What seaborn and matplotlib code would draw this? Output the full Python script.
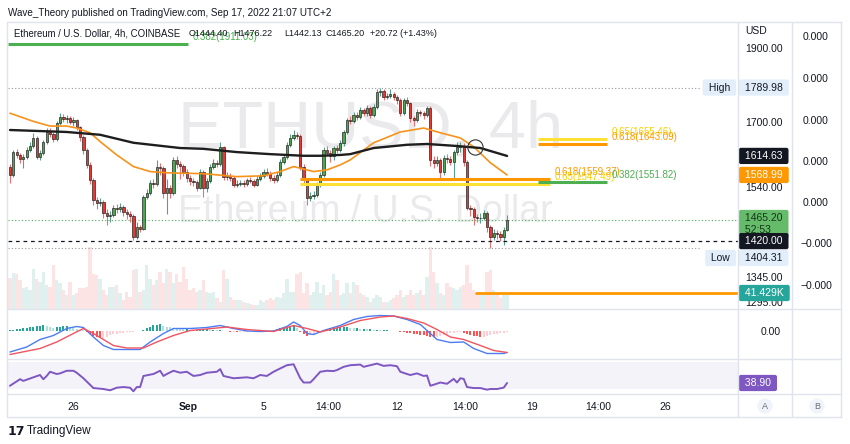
import numpy as np
import seaborn as sns
import matplotlib.pyplot as plt
from matplotlib.lines import Line2D
from matplotlib.ticker import NullLocator
from matplotlib.transforms import blended_transform_factory

W, H = 850, 444

# ETH/USD 4h candles (Coinbase)
first_open = 1588
closes = [1570, 1624, 1618, 1608, 1612, 1630, 1638, 1660, 1612, 1622,
          1650, 1675, 1670, 1656, 1697, 1712, 1706, 1710, 1700, 1704,
          1686, 1661, 1629, 1593, 1557, 1511, 1504, 1506, 1481, 1474,
          1478, 1493, 1490, 1495, 1483, 1480, 1474, 1429, 1450, 1447,
          1518, 1527, 1550, 1547, 1589, 1586, 1527, 1538, 1527, 1605,
          1595, 1590, 1576, 1562, 1555, 1552, 1539, 1576, 1539, 1555,
          1589, 1598, 1595, 1637, 1565, 1567, 1562, 1546, 1548, 1550,
          1548, 1557, 1555, 1546, 1560, 1567, 1576, 1572, 1562, 1558,
          1569, 1600, 1612, 1642, 1660, 1667, 1664, 1589, 1557, 1516,
          1520, 1523, 1546, 1569, 1629, 1622, 1615, 1634, 1630, 1646,
          1674, 1704, 1702, 1717, 1712, 1730, 1722, 1735, 1717, 1738,
          1777, 1780, 1766, 1768, 1772, 1766, 1757, 1722, 1757, 1748,
          1709, 1705, 1725, 1722, 1717, 1735, 1605, 1598, 1605, 1576,
          1610, 1608, 1600, 1624, 1637, 1640, 1600, 1493, 1490, 1473,
          1470, 1471, 1481, 1451, 1429, 1438, 1436, 1429, 1444.40, 1465.20]
highs = [1595, 1630, 1632, 1622, 1620, 1636, 1648, 1672, 1664, 1630,
         1655, 1683, 1684, 1675, 1702, 1722, 1720, 1718, 1714, 1712,
         1708, 1690, 1666, 1634, 1600, 1562, 1518, 1515, 1510, 1490,
         1486, 1500, 1502, 1504, 1500, 1490, 1486, 1480, 1462, 1456,
         1522, 1536, 1556, 1560, 1605, 1598, 1590, 1560, 1545, 1612,
         1614, 1602, 1596, 1584, 1570, 1562, 1558, 1582, 1580, 1562,
         1594, 1606, 1605, 1649, 1640, 1576, 1574, 1566, 1556, 1557,
         1556, 1562, 1563, 1560, 1566, 1574, 1582, 1586, 1578, 1568,
         1575, 1606, 1620, 1648, 1670, 1679, 1675, 1668, 1595, 1562,
         1530, 1532, 1552, 1575, 1636, 1640, 1628, 1640, 1642, 1654,
         1680, 1710, 1714, 1725, 1726, 1738, 1736, 1744, 1740, 1745,
         1785, 1789.98, 1786, 1776, 1785, 1778, 1770, 1762, 1762, 1764,
         1752, 1716, 1732, 1730, 1728, 1742, 1740, 1614, 1615, 1610,
         1618, 1620, 1614, 1630, 1648, 1650, 1646, 1605, 1500, 1496,
         1480, 1482, 1488, 1486, 1456, 1446, 1444, 1442, 1450, 1476.22]
lows = [1550, 1565, 1610, 1598, 1585, 1606, 1625, 1634, 1606, 1604,
        1618, 1645, 1662, 1650, 1652, 1692, 1700, 1698, 1694, 1690,
        1680, 1652, 1620, 1585, 1548, 1500, 1490, 1497, 1470, 1455,
        1462, 1472, 1482, 1484, 1475, 1468, 1462, 1422, 1425, 1440,
        1444, 1512, 1522, 1538, 1543, 1570, 1515, 1480, 1515, 1522,
        1585, 1560, 1566, 1552, 1545, 1544, 1532, 1535, 1518, 1530,
        1550, 1584, 1588, 1590, 1558, 1558, 1555, 1540, 1540, 1542,
        1541, 1544, 1549, 1540, 1542, 1555, 1562, 1566, 1555, 1550,
        1553, 1564, 1594, 1606, 1636, 1654, 1656, 1580, 1548, 1500,
        1508, 1512, 1518, 1540, 1565, 1614, 1600, 1605, 1622, 1625,
        1640, 1668, 1694, 1696, 1704, 1706, 1714, 1716, 1710, 1712,
        1732, 1768, 1758, 1760, 1762, 1758, 1745, 1714, 1718, 1740,
        1700, 1690, 1700, 1714, 1708, 1712, 1590, 1585, 1590, 1557,
        1570, 1598, 1592, 1560, 1618, 1625, 1590, 1488, 1475, 1455,
        1462, 1460, 1465, 1440, 1404.31, 1422, 1425, 1420, 1411, 1442.13]
volume_k = [95, 110, 107, 87, 62, 67, 57, 122, 92, 82, 112, 72,
            67, 132, 87, 77, 57, 42, 82, 42, 47, 62,
            62, 67, 187, 107, 102, 92, 57, 42, 67, 67,
            72, 47, 27, 52, 37, 117, 122, 52, 57, 132,
            92, 72, 87, 112, 77, 122, 112, 77, 107, 82,
            127, 92, 57, 62, 52, 57, 87, 52, 47, 52,
            32, 22, 117, 92, 37, 27, 27, 27, 22, 17,
            15, 12, 12, 27, 22, 27, 32, 27, 37, 32,
            47, 92, 52, 52, 107, 112, 47, 77, 42, 52,
            82, 47, 72, 42, 52, 107, 87, 42, 47, 77,
            47, 82, 72, 47, 42, 37, 22, 32, 42, 37,
            22, 22, 27, 32, 42, 57, 37, 42, 57, 42,
            47, 57, 42, 97, 187, 112, 77, 47, 42, 77,
            67, 62, 57, 67, 72, 132, 77, 57, 47, 42,
            47, 112, 117, 57, 47, 32, 42, 41.429]

# moving averages (candle index, price)
ma_fast_idx = [0, 7, 12, 17, 20, 24, 27, 32, 37, 42, 47, 58, 68, 76, 81, 85,
               91, 95, 99, 102, 109, 117, 124, 129, 135, 139, 144, 149]
ma_fast = [1722, 1701, 1689, 1689, 1684, 1672, 1650, 1617, 1589, 1577, 1574,
           1572, 1565, 1567, 1577, 1589, 1577, 1581, 1593, 1605, 1647, 1674,
           1684, 1672, 1659, 1637, 1598, 1568.99]
ma_slow_idx = [0, 17, 27, 37, 51, 58, 68, 78, 88, 93, 99, 102, 109, 119, 125,
               134, 141, 149]
ma_slow = [1679, 1674, 1667, 1647, 1634, 1632, 1624, 1619, 1615, 1615, 1617,
           1619, 1634, 1642, 1644, 1639, 1634, 1614.63]

# MACD panel
macd_idx = [0, 5, 9, 13, 17, 20, 22, 25, 28, 31, 35, 39, 42, 46, 49, 54, 59,
            63, 67, 71, 75, 79, 83, 85, 87, 89, 91, 94, 99, 103, 107, 111,
            115, 119, 123, 126, 128, 132, 136, 139, 143, 148, 149]
macd_line = [-42, -32, -17, -9, 5, 9, 7, -12, -29, -37, -37, -37, -22, -5, 5,
             5, 7, 11, 5, 0, -1, 0, 9, 18, 11, -5, -7, 1, 11, 23, 29, 31, 30,
             23, 13, -5, -17, -23, -22, -35, -45, -45, -43]
signal_idx = [0, 9, 14, 19, 22, 25, 28, 31, 35, 40, 44, 49, 54, 59, 65, 71,
              79, 85, 89, 93, 99, 105, 111, 115, 119, 124, 128, 132, 136, 141,
              145, 149]
signal_line = [-47, -35, -22, -5, 5, -5, -17, -29, -34, -34, -22, -9, 1, 4, 8,
               3, -1, 11, 5, -2, 8, 21, 28, 30, 25, 16, 3, -12, -17, -29, -39,
               -43]
macd_hist = [2, 2, 3, 4, 5, 6, 7, 8, 9, 10, 11, 10, 7, 6, 7, 8, 9, 9, 7, 5, 4,
             2, 1, -3, -6, -10, -13, -15, -14, -12, -8, -7, -6, -5, -4, -3, -2,
             -2, -1, 0, 2, 5, 8, 11, 12, 13, 10, 8, 7, 6, 5, 4, 3, 3, 2, 2,
             2, 3, 3, 3, 2, 2, 1, 1, 0, -1, -2, -2, -3, -3, -2, -2, -1, -1, -1,
             -1, -1, 0, 0, 1, 3, 5, 6, 7, 8, 9, 6, -3, -7, -10, -9, -6,
             -3, -1, 1, 3, 4, 5, 6, 7, 7, 7, 6, 5, 5, 4, 4, 3, 3, 2, 2, 1, 1,
             1, 0, 0, -1, -2, -3, -4, -5, -6, -7, -8, -9, -11, -12, -13, -13,
             -11, -9, -7, -5, -4, -3, -2, -4, -6, -8, -10, -11, -12, -12, -11,
             -9, -7, -6, -5, -4, -3]

# RSI panel
rsi_idx = [0, 3, 4, 7, 9, 10, 11, 12, 14, 15, 17, 19, 20, 22, 25, 28, 30, 32,
           34, 36, 37, 38, 39, 40, 43, 45, 46, 47, 49, 51, 53, 55, 57, 59, 62,
           63, 64, 67, 71, 73, 75, 77, 79, 81, 83, 85, 87, 88, 90, 91, 93, 95,
           97, 98, 100, 102, 105, 106, 108, 110, 112, 114, 116, 117, 119, 120,
           122, 124, 125, 126, 127, 129, 131, 133, 134, 135, 136, 137, 139,
           141, 143, 144, 146, 148, 149]
rsi_line = [34.8, 44.5, 42.0, 47.3, 50.7, 44.5, 49.3, 55.5, 52.2, 53.1, 57.0,
            57.0, 54.1, 45.9, 31.4, 30.0, 28.1, 31.9, 32.9, 31.9, 26.6, 32.9,
            32.9, 49.3, 52.2, 57.0, 49.3, 52.2, 57.0, 54.1, 55.5, 49.3, 50.7,
            54.1, 55.5, 59.4, 49.3, 45.9, 47.3, 45.9, 50.7, 49.3, 55.5, 60.4,
            65.2, 66.6, 45.9, 39.6, 39.6, 44.5, 55.5, 57.0, 56.5, 58.0, 62.8,
            65.2, 66.1, 62.8, 65.2, 67.6, 64.2, 65.2, 63.7, 55.5, 52.2, 50.7,
            53.1, 49.3, 50.0, 34.8, 36.3, 39.6, 37.7, 45.0, 39.6, 45.9, 45.0,
            32.9, 31.4, 31.4, 29.0, 30.0, 30.0, 32.0, 38.9]

time_ticks = [18.9, 53.4, 76.1, 95.3, 116.0, 136.4, 156.5, 176.3, 196.3]
time_labels = ['26', 'Sep', '5', '14:00', '12', '14:00', '19', '14:00', '26']
price_ticks = [1900, 1700, 1540, 1345, 1295]

# fibonacci drawings
fib_levels = [1911.03, 1559.37, 1547.49, 1551.82, 1655.46, 1643.09]
fib_ratio = ['0.382', '0.618', '0.65', '0.382', '0.65', '0.618']

# ---------------------------------------------------------------------------
sns.set_theme(style='white')
plt.rcParams['font.family'] = ['Liberation Sans', 'DejaVu Sans']
TXT = '#131722'
BORDER = '#E0E3EB'


def frac(x0, y0, x1, y1):
    return [x0 / W, 1 - y1 / H, (x1 - x0) / W, (y1 - y0) / H]


def xi(px):
    return (px - 10) / 3.336


def px_price(py):
    return 1900 / 10 ** ((py - 48) / 1527)


def fig_line(x0, y0, x1, y1, **kw):
    fig.add_artist(Line2D([x0 / W, x1 / W], [1 - y0 / H, 1 - y1 / H], **kw))


fig = plt.figure(figsize=(W / 100, H / 100), dpi=100)
fig.patch.set_facecolor('white')

axv = fig.add_axes(frac(8, 22, 738, 309))
ax = fig.add_axes(frac(8, 22, 738, 309), sharex=axv)
axm = fig.add_axes(frac(8, 309, 738, 359), sharex=axv)
axr = fig.add_axes(frac(8, 359, 738, 394), sharex=axv)
ax.patch.set_visible(False)

n = len(closes)
idx = np.arange(n)
c = np.array(closes, dtype=float)
o = np.array([first_open] + closes[:-1], dtype=float)
hi = np.array(highs, dtype=float)
lo = np.array(lows, dtype=float)
up = c >= o

# volume + watermark (bottom layer)
vcol = np.where(up, '#DFF0EE', '#FCE4E4')
axv.bar(idx, volume_k, width=1.0, color=vcol, linewidth=0)
axv.set_ylim(0, 866)
axv.text((178 - 8) / 730, 1 - (147 - 22) / 287, 'ETHUSD, 4h', transform=axv.transAxes,
         fontsize=48, color='#EAEAED', ha='left', va='baseline')
axv.text((178 - 8) / 730, 1 - (222 - 22) / 287, 'Ethereum / U.S. Dollar',
         transform=axv.transAxes, fontsize=27, color='#EAEAED', ha='left', va='baseline')

# candles
ax.vlines(idx[up], lo[up], hi[up], color='#5E9C8C', lw=0.8, zorder=2)
ax.vlines(idx[~up], lo[~up], hi[~up], color='#E57373', lw=0.8, zorder=2)
body_lo = np.minimum(o, c)
body_h = np.maximum(np.abs(c - o), 0.8)
ax.bar(idx, body_h, bottom=body_lo, width=0.68,
       color=np.where(up, '#4FA552', '#E53935'), edgecolor='#1a1a1a',
       linewidth=0.45, zorder=3)

# moving averages
sns.lineplot(x=ma_fast_idx, y=ma_fast, ax=ax, color='#F7931A', linewidth=1.2, zorder=4)
sns.lineplot(x=ma_slow_idx, y=ma_slow, ax=ax, color='#1E1E1E', linewidth=1.7, zorder=4)
ax.plot([xi(475)], [px_price(147)], marker='o', ms=11, mfc='none', mec='#333333',
        mew=0.8, zorder=5)

# horizontal lines
ax.hlines(1789.98, xi(8), xi(700), color='#9598A1', lw=0.8, linestyles=(0, (1, 2)))
ax.hlines(1404.31, xi(8), xi(700), color='#9598A1', lw=0.8, linestyles=(0, (1, 2)))
ax.hlines(1420, xi(8), xi(738), color='#131722', lw=0.9, linestyles=(0, (3, 3)))
ax.hlines(1465.2, xi(8), xi(738), color='#4CAF50', lw=0.8, linestyles=(0, (1, 2)))
ax.hlines(px_price(293), xi(475), xi(738), color='#FF9800', lw=2)

fib_px = [(8, 188), (300, 550), (300, 550), (538, 607), (538, 607), (538, 607)]
fib_col = ['#4CAF50', '#FF9800', '#FFE135', '#4CAF50', '#FFE135', '#FF9800']
fib_lbl_col = ['#4CAF50', '#FF9800', '#F5D000', '#4CAF50', '#F5D000', '#FF9800']
for lev, r, (x0, x1), col, lc in zip(fib_levels, fib_ratio, fib_px, fib_col, fib_lbl_col):
    ax.hlines(lev, xi(x0), xi(x1), color=col, lw=2.2, zorder=3)
    ax.annotate(f'{r}({lev:.2f})', (xi(x1), lev), xytext=(3, 5),
                textcoords='offset points', color=lc, fontsize=7, va='center',
                ha='left', zorder=6, annotation_clip=False)

ax.set_yscale('log')
ax.set_ylim(px_price(309), px_price(22))
axv.set_xlim(xi(8), xi(738))
ax.set_yticks(price_ticks, labels=[f'{p:.2f}' for p in price_ticks])
ax.yaxis.set_minor_locator(NullLocator())
ax.yaxis.tick_right()
ax.tick_params(axis='y', length=0, pad=5, labelsize=7.5, colors=TXT)
ax.tick_params(axis='x', bottom=False, labelbottom=False)
axv.set_yticks([])
axv.tick_params(axis='x', bottom=False, labelbottom=False)
ax.set_xlabel('')
ax.set_ylabel('')

tr = blended_transform_factory(ax.transAxes, ax.transData)


def badge(a, y, text, fc, tc, va='center', trans=None):
    a.text(1 + 4 / 730, y, text, transform=trans, ha='left', va=va, fontsize=7.5,
           color=tc, zorder=10, clip_on=False, linespacing=1.3,
           bbox=dict(boxstyle='round,pad=0.3,rounding_size=0.2', fc=fc, ec='none'))


badge(ax, 1789.98, ' 1789.98 ', '#E3EEFB', TXT, trans=tr)
badge(ax, 1614.63, ' 1614.63 ', '#131722', 'white', trans=tr)
badge(ax, 1568.99, ' 1568.99 ', '#FF9800', 'white', trans=tr)
badge(ax, px_price(213), ' 1465.20 \n 52:53', '#66BB6A', '#13361a', va='top', trans=tr)
badge(ax, 1420, ' 1420.00 ', '#131722', 'white', trans=tr)
badge(ax, px_price(258), ' 1404.31 ', '#E3EEFB', TXT, trans=tr)
badge(ax, px_price(293), ' 41.429K ', '#26A69A', 'white', trans=tr)
for lab, yy in [('High', 1789.98), ('Low', px_price(258))]:
    ax.text((733 - 8) / 730, yy, f' {lab} ', transform=tr, ha='right', va='center',
            fontsize=7.5, color=TXT, zorder=10,
            bbox=dict(boxstyle='round,pad=0.3,rounding_size=0.2', fc='#E3EEFB', ec='none'))

# MACD
hcol = []
for i, h in enumerate(macd_hist):
    prev = macd_hist[i - 1] if i else h
    if h >= 0:
        hcol.append('#26A69A' if h >= prev else '#B2DFDB')
    else:
        hcol.append('#FF5252' if h < prev else '#FFCDD2')
axm.bar(idx, macd_hist, width=0.6, color=hcol, linewidth=0)
sns.lineplot(x=macd_idx, y=macd_line, ax=axm, color='#4C7CF3', linewidth=1.0)
sns.lineplot(x=signal_idx, y=signal_line, ax=axm, color='#F2545F', linewidth=1.0)
axm.set_ylim(-56, 44)
axm.set_yticks([0], labels=['0.00'])
axm.yaxis.tick_right()
axm.tick_params(axis='y', length=0, pad=16, labelsize=7.5, colors=TXT)
axm.tick_params(axis='x', bottom=False, labelbottom=False)
axm.set_xlabel('')
axm.set_ylabel('')

# RSI
axr.axhspan(30, 70, color='#7E57C2', alpha=0.07, lw=0)
sns.lineplot(x=rsi_idx, y=rsi_line, ax=axr, color='#7E57C2', linewidth=1.4)
axr.set_ylim(22.6, 74.4)
axr.set_yticks([])
trr = blended_transform_factory(axr.transAxes, axr.transData)
badge(axr, 38.9, ' 38.90 ', '#7E57C2', 'white', trans=trr)
axr.set_xticks(time_ticks, labels=time_labels)
axr.tick_params(axis='x', length=0, pad=6, labelsize=7.5, colors=TXT)
axr.get_xticklabels()[1].set_fontweight('bold')
axr.set_xlabel('')
axr.set_ylabel('')

for a in (axv, ax, axm, axr):
    for s in a.spines.values():
        s.set_visible(False)
    a.grid(False)

# panel frame and separators
lk = dict(color=BORDER, lw=1)
fig_line(7, 22, 841, 22, **lk)
fig_line(7, 417, 841, 417, **lk)
fig_line(7, 22, 7, 417, **lk)
fig_line(841, 22, 841, 417, **lk)
fig_line(7, 309, 841, 309, **lk)
fig_line(7, 359, 841, 359, **lk)
fig_line(7, 394, 841, 394, **lk)
fig_line(738, 22, 738, 417, **lk)
fig_line(792, 22, 792, 417, **lk)

# texts
fig.text(8 / W, 1 - 13 / H, 'Wave_Theory published on TradingView.com, Sep 17, 2022 21:07 UTC+2',
         fontsize=7.1, color=TXT, va='center')
fig.text(14 / W, 1 - 34 / H, 'Ethereum / U.S. Dollar, 4h, COINBASE', fontsize=6.9,
         color=TXT, va='center')
for xp, s in [(189, 'O1444.40'), (233, 'H1476.22'), (284, 'L1442.13'),
              (325, 'C1465.20'), (370, '+20.72 (+1.43%)')]:
    fig.text(xp / W, 1 - 34 / H, s, fontsize=6.5, color=TXT, va='center')
fig.text(745 / W, 1 - 31 / H, 'USD', fontsize=7.5, color=TXT, va='center')
for yy, s in [(37, '0.000'), (79, '0.000'), (121, '0.000'), (162, '0.000'),
              (203, '0.000'), (244, '\u22120.000'), (286, '\u22120.000')]:
    fig.text(816 / W, 1 - yy / H, s, fontsize=7.5, color=TXT, va='center', ha='center')
for xp, s in [(765, 'A'), (817, 'B')]:
    fig.text(xp / W, 1 - 406 / H, s, fontsize=6.5, color='#6A6D78', ha='center',
             va='center', bbox=dict(boxstyle='circle,pad=0.35', fc='#F0F3FA', ec='none'))
fig.text(8 / W, 1 - 431 / H, '17', fontsize=9, fontweight='heavy', color=TXT,
         va='center', family='DejaVu Sans')
fig.text(27 / W, 1 - 431 / H, 'TradingView', fontsize=8.5, color=TXT, va='center')

fig.savefig('out.png', dpi=100, facecolor='white')
